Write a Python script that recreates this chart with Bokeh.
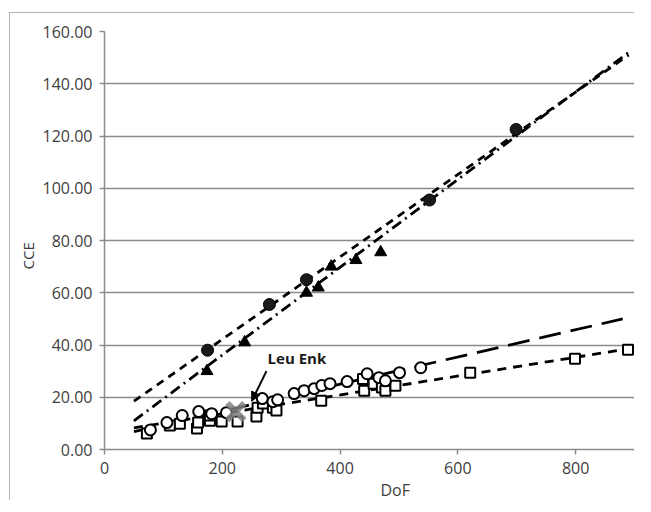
from bokeh.plotting import figure
from bokeh.models import Label, Arrow, NormalHead, PrintfTickFormatter, FixedTicker, Range1d, Title
from bokeh.embed import file_html
from bokeh.resources import INLINE

# ---- data ----
filled_circle_x = [175, 280, 343, 552, 699]
filled_circle_y = [38, 55.5, 65, 95.5, 122.5]

triangle_x = [174, 238, 343, 363, 385, 427, 469]
triangle_y = [30, 41, 60, 62, 70, 72.5, 75.5]

open_circle_x = [78, 106, 132, 160, 182, 207, 268, 286, 294, 322, 339, 356, 369,
                 383, 412, 446, 466, 477, 501, 537]
open_circle_y = [7.5, 10.3, 13, 14.5, 13.7, 14.1, 19.5, 18.3, 19, 21.4, 22.5, 23.3, 24.5,
                 25.2, 26, 29, 27.5, 26.3, 29.4, 31.3]

square_x = [72, 111, 128, 157, 159, 179, 179, 199, 226, 258, 260, 269, 286, 292, 368,
            439, 441, 457, 471, 477, 494, 621, 799, 889]
square_y = [6.1, 9.2, 9.9, 8, 10.3, 11, 13, 10.7, 10.7, 12.6, 16, 17.6, 16, 14.9, 18.7,
            27, 22.5, 25.2, 23.7, 22.5, 24.4, 29.4, 34.7, 38.2]

leu_enk_x = [223]
leu_enk_y = [14.5]

# trend lines (end points)
fit_filled_x = [50, 890]
fit_filled_y = [18.5, 151]
fit_tri_x = [50, 890]
fit_tri_y = [11, 152]
fit_open_x = [50, 880]
fit_open_y = [6.8, 50]
fit_sq_x = [50, 900]
fit_sq_y = [8.3, 38.9]

x_ticks = [0, 200, 400, 600, 800]
y_ticks = [0, 20, 40, 60, 80, 100, 120, 140, 160]

FONT = "Open Sans"
TXT = "#404040"
GRID = "#8c8c8c"

p = figure(width=625, height=488, output_backend="svg", toolbar_location=None,
           x_range=Range1d(0, 900), y_range=Range1d(0, 160),
           min_border_left=94, min_border_right=1, min_border_top=18, min_border_bottom=20)
p.outline_line_color = None
# outer chart frame (left and top edges visible in the reference)
p.styles = {"border-left": "1px solid #b4b4b4", "border-top": "1px solid #b4b4b4",
            "margin-left": "9px", "margin-top": "12px"}

p.xgrid.visible = False
p.ygrid.grid_line_color = GRID
p.ygrid.grid_line_width = 1.5
p.ygrid.ticker = FixedTicker(ticks=y_ticks)

for ax in (p.xaxis[0], p.yaxis[0]):
    ax.axis_line_color = GRID
    ax.axis_line_width = 1.5
    ax.major_tick_line_color = GRID
    ax.major_tick_line_width = 1.5
    ax.major_tick_out = 5
    ax.major_tick_in = 0
    ax.minor_tick_line_color = None
    ax.major_label_text_font = FONT
    ax.major_label_text_font_size = "16px"
    ax.major_label_text_color = TXT

p.xaxis.ticker = FixedTicker(ticks=x_ticks)
p.yaxis.ticker = FixedTicker(ticks=y_ticks)
p.yaxis.formatter = PrintfTickFormatter(format="%.2f")
p.xaxis.major_label_standoff = 7
p.yaxis.major_label_standoff = 7

# axis titles as side titles so they can be offset like the reference
p.add_layout(Title(text="DoF", align="left", offset=276, text_font=FONT,
                   text_font_size="16px", text_font_style="normal", text_color=TXT,
                   standoff=1), "below")
p.add_layout(Title(text="CCE", align="left", offset=180, text_font=FONT,
                   text_font_size="15px", text_font_style="normal", text_color=TXT,
                   standoff=4), "left")

# trend lines
p.line(fit_filled_x, fit_filled_y, line_color="black", line_width=2.8, line_dash="8 6")
p.line(fit_tri_x, fit_tri_y, line_color="black", line_width=2.8, line_dash="11 5 2 5")
p.line(fit_open_x, fit_open_y, line_color="black", line_width=2.8, line_dash="22 10")
p.line(fit_sq_x, fit_sq_y, line_color="black", line_width=2.8, line_dash="9 7")

# markers
p.scatter(square_x, square_y, marker="square", size=10, fill_color="white",
          line_color="black", line_width=2)
p.scatter(open_circle_x, open_circle_y, marker="circle", size=11, fill_color="white",
          line_color="black", line_width=2)
p.scatter(triangle_x, triangle_y, marker="triangle", size=12, fill_color="black",
          line_color="black", line_width=1)
p.scatter(filled_circle_x, filled_circle_y, marker="circle", size=12, fill_color="#1a1a1a",
          line_color="black", line_width=1)
p.scatter(leu_enk_x, leu_enk_y, marker="x", size=24, line_color="#808080",
          line_width=6, line_alpha=0.85)

# annotation
p.add_layout(Arrow(end=NormalHead(size=9, fill_color="black", line_color="black"),
                   x_start=275, y_start=30, x_end=250, y_end=18.5,
                   line_color="black", line_width=2))
p.add_layout(Label(x=277, y=35, text="Leu Enk", text_font=FONT, text_font_size="15px",
                   text_font_style="bold", text_color="#1a1a1a", text_baseline="middle"))

open("out.html", "w").write(file_html(p, INLINE))
